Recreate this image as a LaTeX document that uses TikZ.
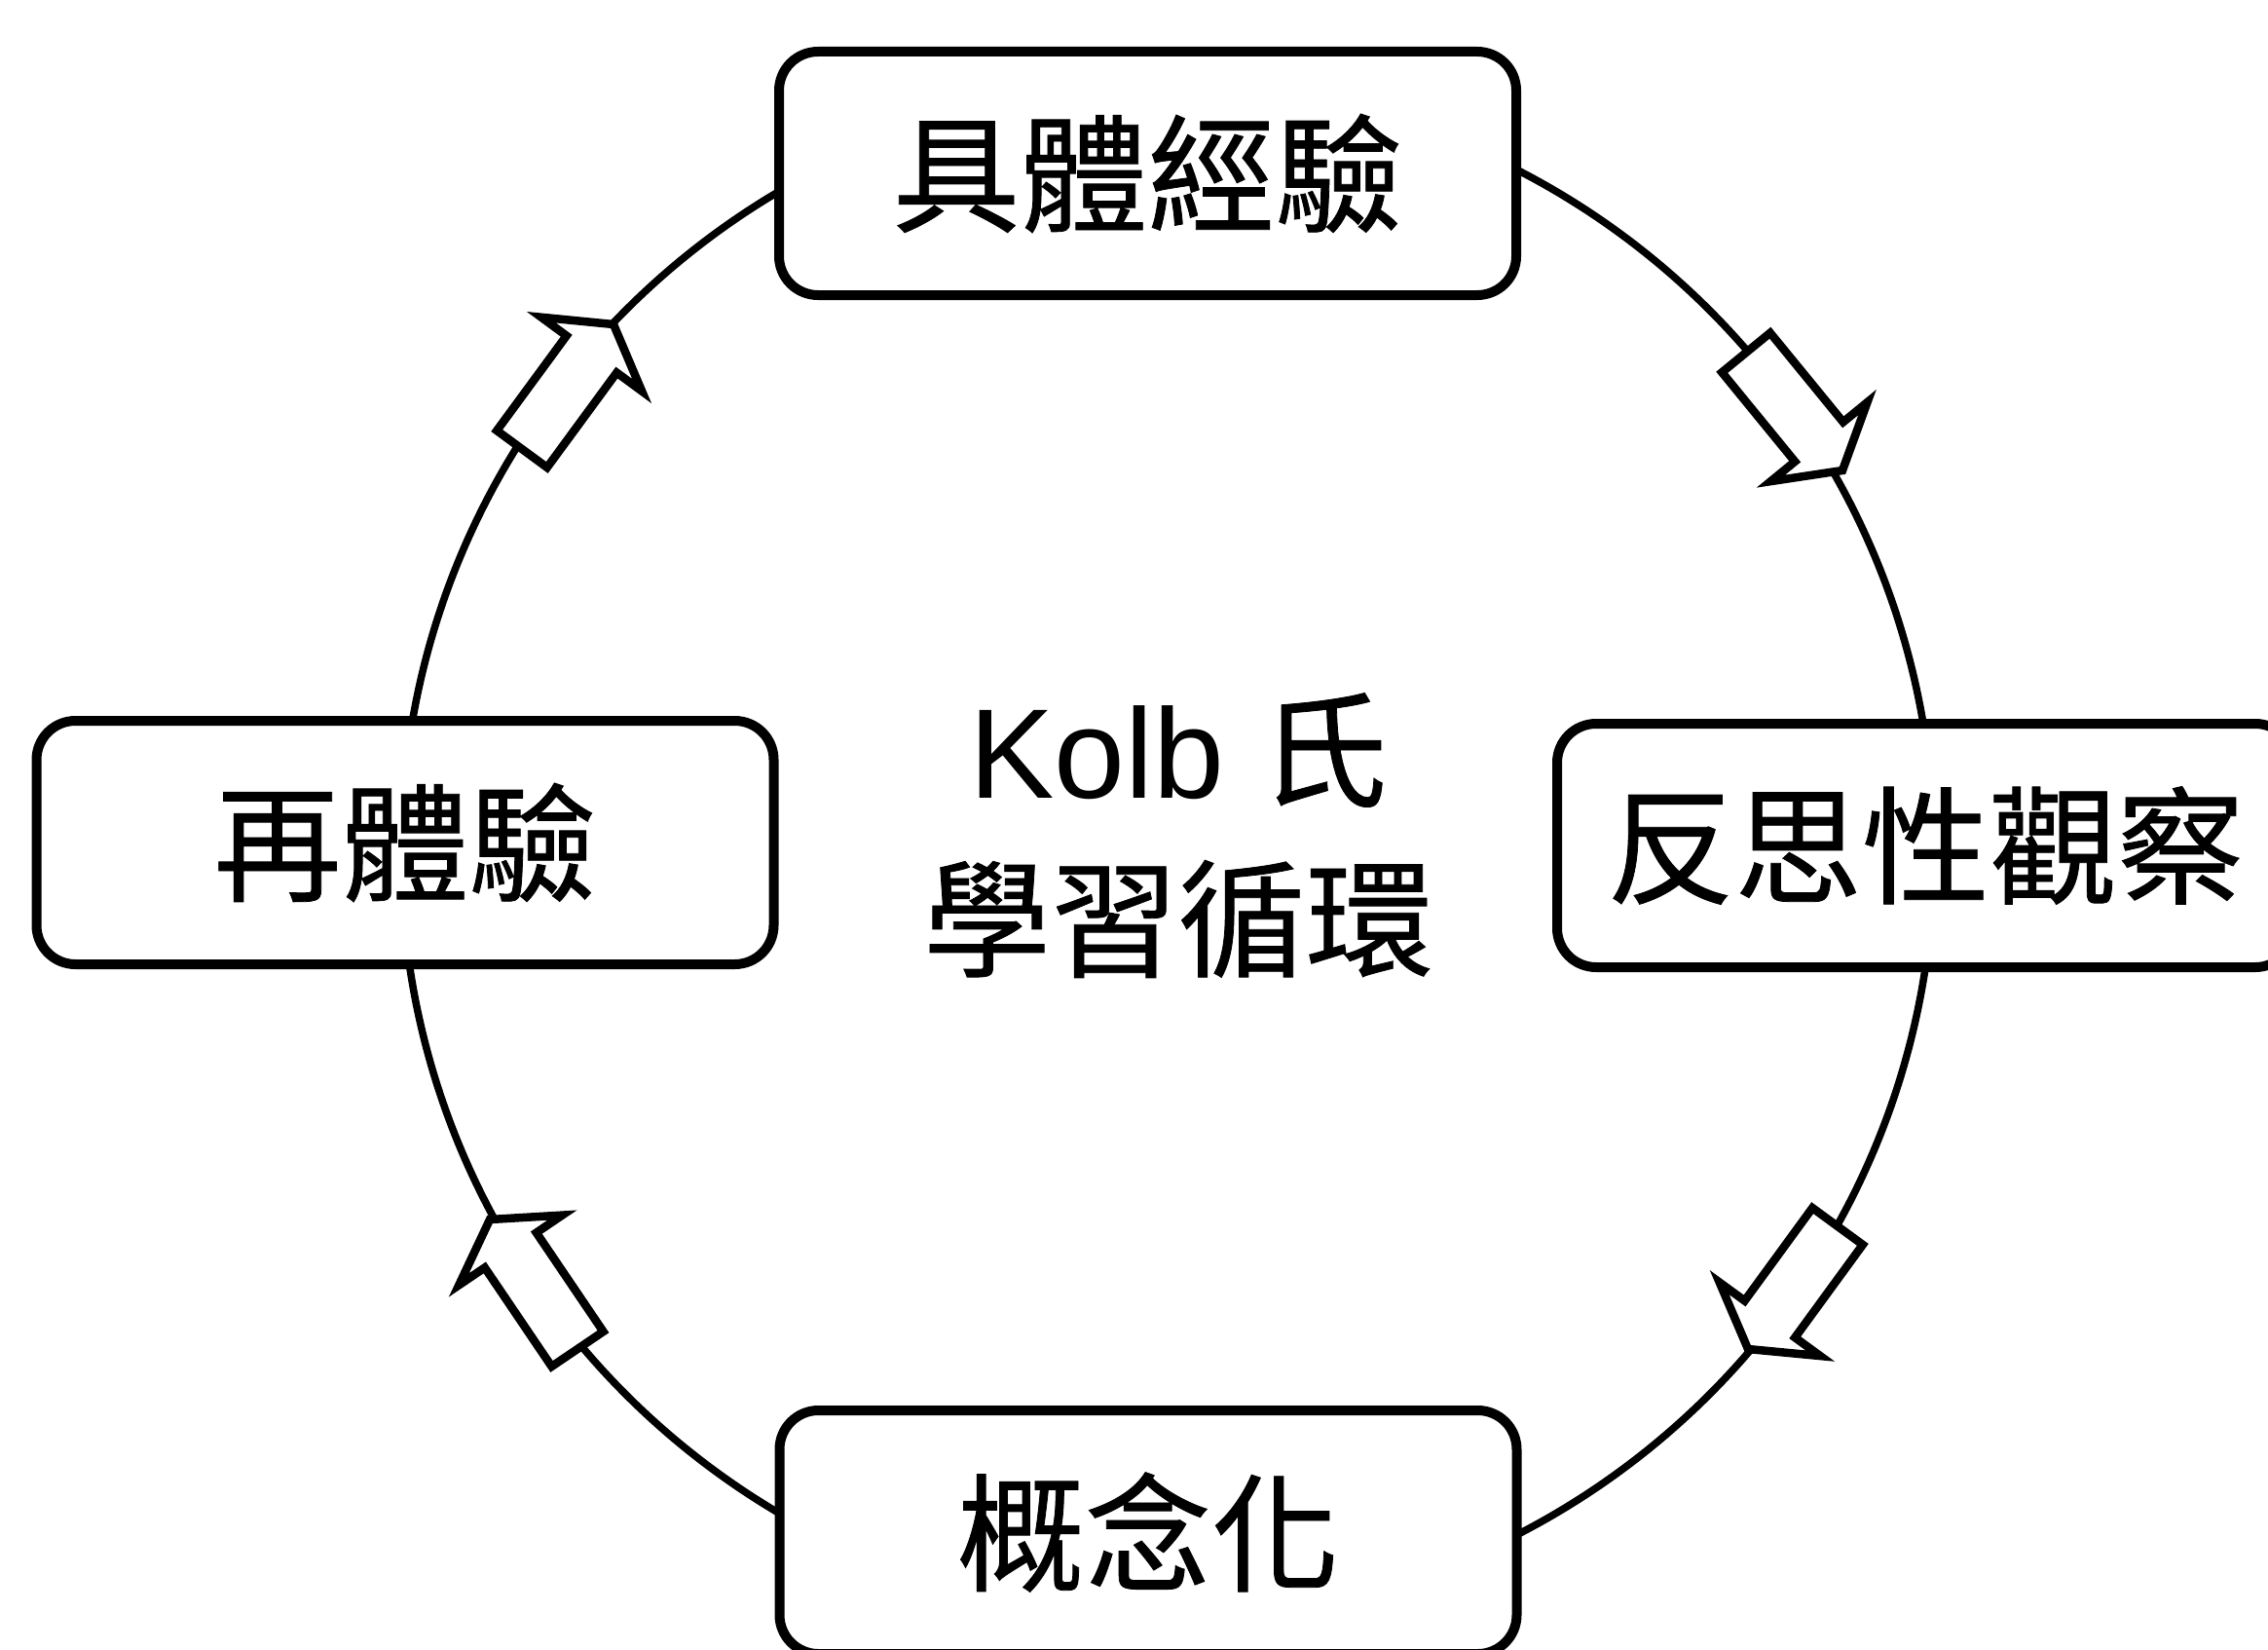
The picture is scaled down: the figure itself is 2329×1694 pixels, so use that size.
\documentclass[tikz,border=0pt]{standalone}
\usepackage{fontspec}
\setmainfont{Liberation Sans}
\newfontfamily\cjk[FakeBold=0.6]{Noto Sans CJK TC}
\usetikzlibrary{calc}
\tikzset{
  stage/.style={draw, line width=10pt, rounded corners=40pt, fill=white,
    minimum width=757pt, minimum height=250pt, inner sep=0pt,
    font=\cjk\fontsize{131}{150}\selectfont},
  cyc/.style={line width=7.5pt},
  hollow/.style={draw, fill=white, line width=8.5pt, line join=miter},
  title/.style={inner sep=0pt, font=\fontsize{131}{150}\selectfont}
}
\newcommand{\blockarrow}[3]{%
  \coordinate (#1t) at #2;
  \coordinate (#1h) at #3;
  \coordinate (#1s) at ($(#1h)!38pt!(#1t)$);
  \draw[hollow] ($(#1t)!32pt!90:(#1h)$) -- ($(#1s)!32pt!90:(#1h)$)
    -- ($(#1s)!64pt!90:(#1h)$) -- (#1h) -- ($(#1s)!64pt!-90:(#1h)$)
    -- ($(#1s)!32pt!-90:(#1h)$) -- ($(#1t)!32pt!-90:(#1h)$) -- cycle;
}
\begin{document}
\begin{tikzpicture}[x=1pt,y=-1pt]
\useasboundingbox (0,0) rectangle (2329,1694);
\fill[white] (0,0) rectangle (2329,1694);
\coordinate (c) at (1199,875);
\draw[cyc] (c) circle[radius=787];
\node[stage] (exp) at (1178.5,178) {具體經驗};
\node[stage] (obs) at (1977.5,868) {反思性觀察};
\node[stage] (con) at (1179,1573) {概念化};
\node[stage] (re) at (416,865) {再體驗};
\node[title] (t1) at (1210,770) {Kolb {\cjk 氏}};
\node[title, font=\cjk\fontsize{131}{150}\selectfont] (t2) at (1210,943.5) {學習循環};
\blockarrow{a1}{(1793,362)}{(1892,483)}
\blockarrow{a2}{(1887,1259)}{(1795,1385)}
\blockarrow{a3}{(593,1385)}{(503,1252)}
\blockarrow{a4}{(536,461)}{(630,333)}
\end{tikzpicture}
\end{document}
